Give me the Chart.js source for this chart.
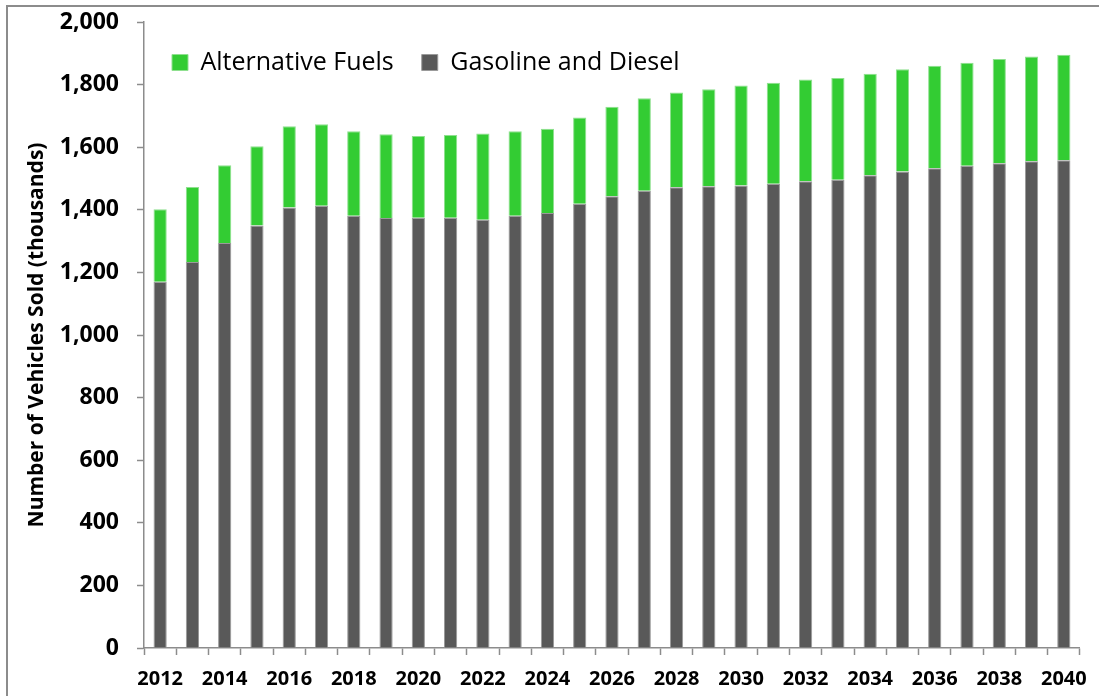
<!DOCTYPE html>
<html>
<head>
<meta charset="utf-8">
<script src="https://cdn.jsdelivr.net/npm/chart.js@4.4.1/dist/chart.umd.min.js"></script>
<style>
    html, body { margin: 0; padding: 0; background: #fff; overflow: hidden; }
    #frame {
        position: absolute; left: 6px; top: 5px; width: 1200px; height: 800px;
        border-left: 2px solid #8c8c8c; border-top: 2px solid #8c8c8c;
    }
    #wrap { position: absolute; left: 0; top: 0; width: 1099px; height: 696px; }
</style>
</head>
<body>
<div id="frame"></div>
<div id="wrap"><canvas id="salesChart" width="1099" height="696"></canvas></div>
<script>
// Data (thousands of vehicles)
const years = ['2012', '2013', '2014', '2015', '2016', '2017', '2018', '2019', '2020', '2021',
    '2022', '2023', '2024', '2025', '2026', '2027', '2028', '2029', '2030', '2031',
    '2032', '2033', '2034', '2035', '2036', '2037', '2038', '2039', '2040'];
const gasolineDiesel = [1170, 1233, 1294, 1350, 1407, 1413, 1381, 1374, 1375, 1375,
    1368, 1381, 1390, 1419, 1443, 1461, 1472, 1475, 1478, 1483,
    1491, 1496, 1510, 1522, 1533, 1541, 1549, 1555, 1558];
const alternativeFuels = [232, 240, 248, 253, 260, 260, 270, 267, 261, 264,
    276, 270, 269, 276, 286, 295, 303, 310, 319, 323,
    325, 325, 325, 327, 327, 329, 333, 335, 337];
const yTicks = [0, 200, 400, 600, 800, 1000, 1200, 1400, 1600, 1800, 2000];

const fontFamily = '"Open Sans", Lato, sans-serif';
const axisColor = '#8c8c8c';

// Legend sits inside the plot area in one row, without taking layout space
const legendInPlot = {
    id: 'legendInPlot',
    afterInit(chart) {
        const legend = chart.legend;
        const fit = legend.fit;
        legend.fit = function () {
            fit.call(this);
            this.height = 0;
        };
    },
    afterLayout(chart) {
        const legend = chart.legend;
        legend.left = chart.chartArea.left;
        legend.right = chart.chartArea.right;
        legend.top = 22;
        legend.bottom = 110;
    }
};

const ctx = document.getElementById('salesChart').getContext('2d');

new Chart(ctx, {
    type: 'bar',
    data: {
        labels: years,
        datasets: [
            {
                label: 'Gasoline and Diesel',
                data: gasolineDiesel,
                backgroundColor: '#595959',
                borderColor: '#9a9a9a',
                borderWidth: 1,
                categoryPercentage: 1,
                barPercentage: 0.41
            },
            {
                label: 'Alternative Fuels',
                data: alternativeFuels,
                backgroundColor: '#33cc33',
                borderColor: '#8fe08f',
                borderWidth: 1,
                categoryPercentage: 1,
                barPercentage: 0.41
            }
        ]
    },
    plugins: [legendInPlot],
    options: {
        responsive: false,
        animation: false,
        layout: {
            padding: { top: 22, right: 18, left: 0, bottom: 0 }
        },
        scales: {
            x: {
                stacked: true,
                border: { color: axisColor, width: 1.5 },
                grid: {
                    display: true,
                    drawOnChartArea: false,
                    offset: true,
                    tickLength: 7,
                    tickWidth: 1.5,
                    color: axisColor
                },
                ticks: {
                    autoSkip: false,
                    maxRotation: 0,
                    minRotation: 0,
                    padding: 12,
                    color: '#000',
                    font: { family: fontFamily, size: 20, weight: 'bold' },
                    callback: function (value, index) {
                        const year = years[index];
                        return parseInt(year) % 2 === 0 ? year : '';
                    }
                },
                afterFit: function (scale) {
                    scale.height = 48;
                }
            },
            y: {
                stacked: true,
                min: 0,
                max: 2000,
                border: { color: axisColor, width: 1.5 },
                grid: {
                    display: true,
                    drawOnChartArea: false,
                    tickLength: 7,
                    tickWidth: 1.5,
                    color: axisColor
                },
                afterBuildTicks: function (scale) {
                    scale.ticks = yTicks.map(v => ({ value: v }));
                },
                ticks: {
                    padding: 18,
                    color: '#000',
                    font: { family: fontFamily, size: 23, weight: 'bold' },
                    callback: function (value) {
                        return value.toLocaleString('en-US');
                    }
                },
                title: {
                    display: true,
                    text: 'Number of Vehicles Sold (thousands)',
                    color: '#000',
                    font: { family: fontFamily, size: 21, weight: 'bold' },
                    padding: { top: 24, bottom: 0 }
                },
                afterFit: function (scale) {
                    scale.width = 144;
                    // tick padding would otherwise push the plot top down
                    scale.paddingTop = 0;
                    scale.paddingBottom = 0;
                }
            }
        },
        plugins: {
            legend: {
                position: 'top',
                align: 'start',
                reverse: true,
                labels: {
                    boxWidth: 16,
                    boxHeight: 16,
                    padding: 28,
                    color: '#000',
                    font: { family: fontFamily, size: 25 }
                }
            },
            tooltip: { enabled: false }
        }
    }
});
</script>
</body>
</html>
